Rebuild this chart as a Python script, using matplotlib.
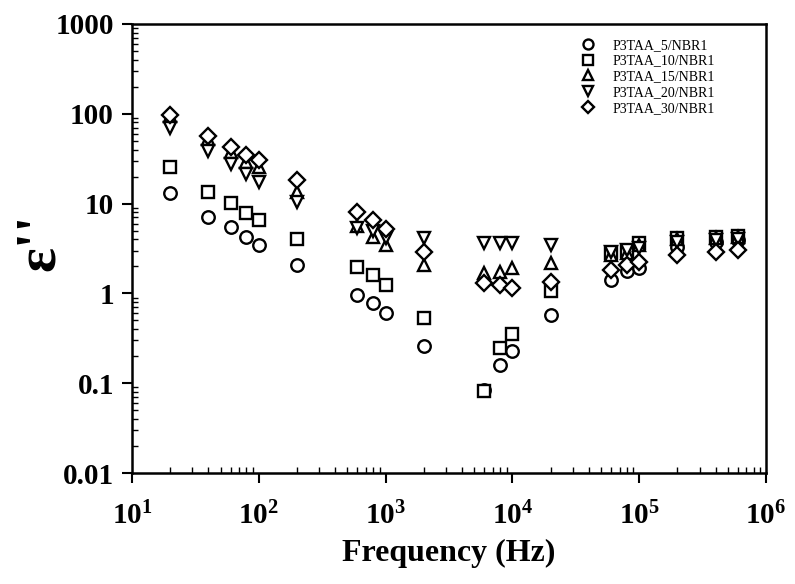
import math

import matplotlib
matplotlib.use("Agg")
import matplotlib.pyplot as plt
from matplotlib.ticker import FixedLocator, LogLocator, FuncFormatter, NullFormatter

plt.rcParams["font.family"] = ["Liberation Serif", "DejaVu Serif"]
plt.rcParams["mathtext.fontset"] = "custom"
plt.rcParams["mathtext.rm"] = "Liberation Serif:bold"
plt.rcParams["mathtext.bf"] = "Liberation Serif:bold"

# frequencies (Hz)
freq = [20, 40, 60, 80, 100, 200, 600, 800, 1000, 2000, 6000, 8000, 10000,
        20000, 60000, 80000, 100000, 200000, 400000, 600000]

# epsilon'' per sample
eps_5 = [13.2, 7.1, 5.5, 4.2, 3.45, 2.07, 0.96, 0.78, 0.60, 0.26, 0.084, 0.16,
         0.23, 0.57, 1.41, 1.79, 1.9, 3.3, 3.75, 3.9]
eps_10 = [25.4, 13.6, 10.1, 7.9, 6.6, 4.0, 1.98, 1.6, 1.24, 0.53, 0.082, 0.245,
          0.35, 1.07, 2.85, 3.0, 3.6, 4.15, 4.2, 4.4]
eps_15 = [95, 52, 38, 29.3, 25.8, 13.6, 5.6, 4.3, 3.45, 2.07, 1.67, 1.75, 1.9,
          2.2, 2.68, 2.8, 3.45, 4.0, 4.1, 4.3]
eps_20 = [69, 38.8, 27.6, 21.2, 17.5, 10.5, 5.3, 5.0, 4.1, 4.1, 3.67, 3.67,
          3.6, 3.45, 2.9, 3.05, 3.2, 3.75, 3.9, 4.0]
eps_30 = [97, 56.6, 42.4, 34.8, 30.6, 18.3, 8.0, 6.6, 5.2, 2.9, 1.3, 1.24,
          1.14, 1.35, 1.82, 2.07, 2.25, 2.68, 2.9, 3.05]

labels = ["P3TAA_5/NBR1", "P3TAA_10/NBR1", "P3TAA_15/NBR1",
          "P3TAA_20/NBR1", "P3TAA_30/NBR1"]
series = [eps_5, eps_10, eps_15, eps_20, eps_30]
markers = ["o", "s", "^", "v", "D"]
sizes = [9, 8.5, 9, 9, 8]

fig = plt.figure(figsize=(7.95, 5.84), dpi=100)
ax = fig.add_axes([0.166, 0.19, 0.7975, 0.769])

for y, m, lab, ms in zip(series, markers, labels, sizes):
    ax.plot(freq, y, linestyle="none", marker=m, markersize=ms,
            markerfacecolor="white", markeredgecolor="black",
            markeredgewidth=1.7, label=lab)

ax.set_xscale("log")
ax.set_yscale("log")
ax.set_xlim(10, 1e6)
ax.set_ylim(0.01, 1000)

ax.xaxis.set_major_locator(FixedLocator([1e1, 1e2, 1e3, 1e4, 1e5, 1e6]))
ax.xaxis.set_major_formatter(
    FuncFormatter(lambda v, p: r"$\mathbf{10^{%d}}$" % round(math.log10(v))))
ax.xaxis.set_minor_locator(LogLocator(base=10, subs=range(2, 10), numticks=20))
ax.xaxis.set_minor_formatter(NullFormatter())

yticks = [0.01, 0.1, 1, 10, 100, 1000]
ytick_labels = ["0.01", "0.1", "1", "10", "100", "1000"]
ax.yaxis.set_major_locator(FixedLocator(yticks))
ax.set_yticklabels(ytick_labels)
ax.yaxis.set_minor_locator(LogLocator(base=10, subs=range(2, 10), numticks=20))
ax.yaxis.set_minor_formatter(NullFormatter())

ax.tick_params(which="major", direction="out", length=7, width=1.5,
               labelsize=21, top=False, right=False, pad=6)
ax.tick_params(which="minor", direction="in", length=4, width=1.0,
               top=False, right=False)
for lbl in ax.get_yticklabels():
    lbl.set_fontweight("bold")
ax.tick_params(axis="x", which="major", pad=14)

for s in ax.spines.values():
    s.set_linewidth(1.8)

ax.set_xlabel("Frequency (Hz)", fontsize=23, fontweight="bold", labelpad=6)
fig.text(0.05, 0.585, "ε''", rotation=90, fontsize=42, fontweight="bold",
         ha="center", va="center")

ax.legend(loc="upper left", frameon=False, fontsize=10, markerscale=0.8,
          handlelength=1.0, handletextpad=1.2, labelspacing=0.2,
          borderpad=0, borderaxespad=0, bbox_to_anchor=(0.709, 0.967))

fig.savefig("out.png", dpi=100)
